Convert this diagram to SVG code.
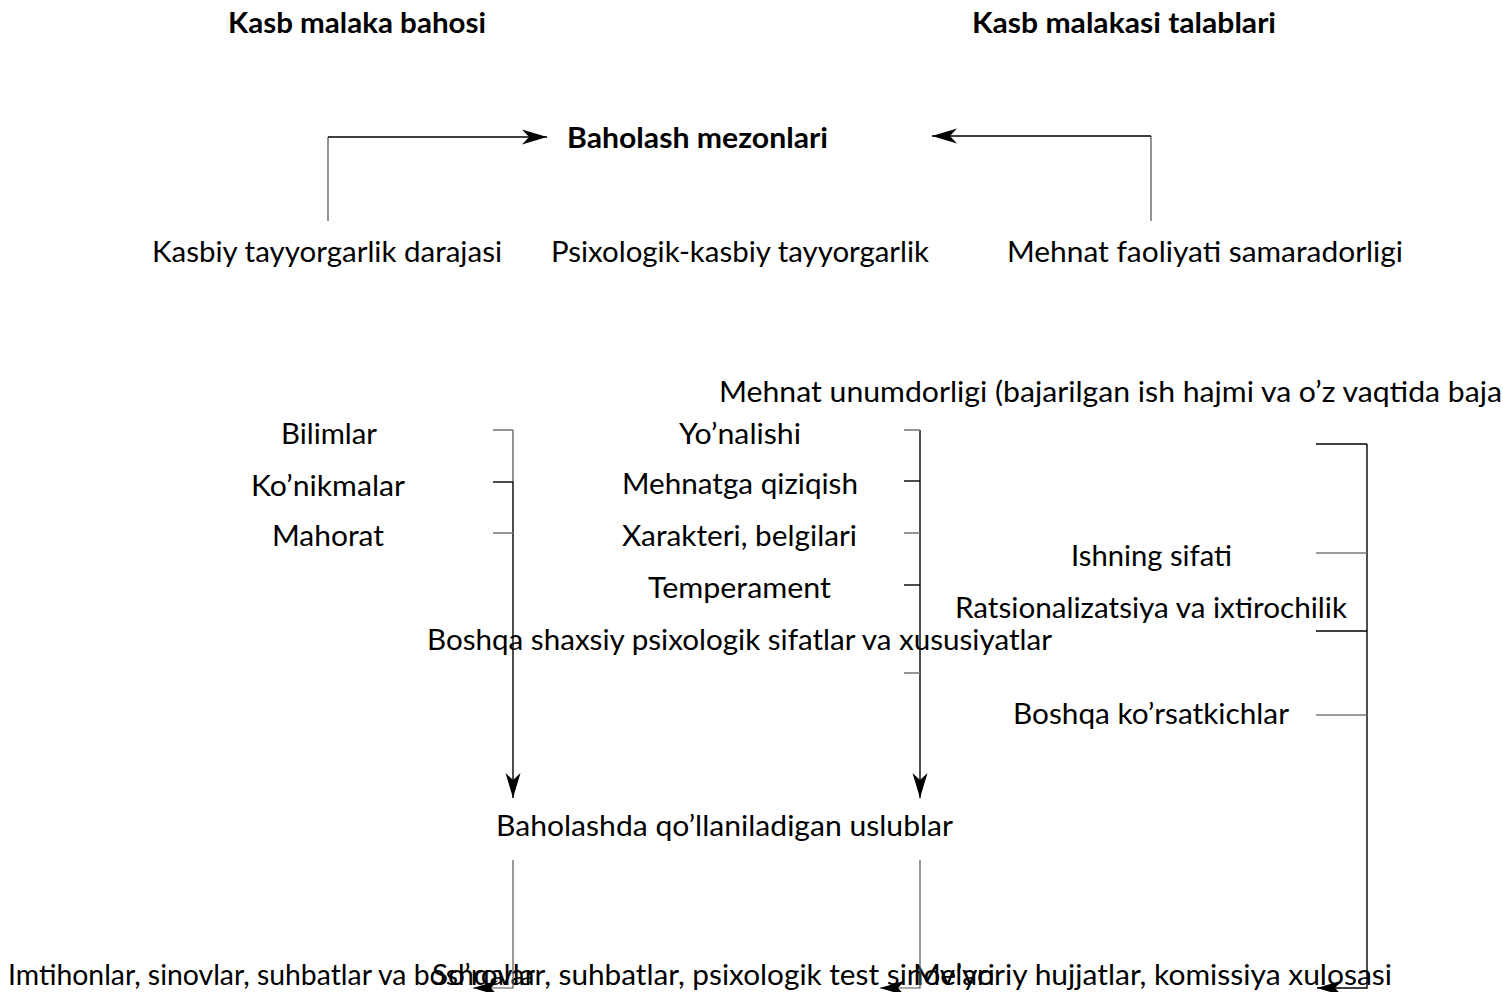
<svg xmlns="http://www.w3.org/2000/svg" width="1503" height="992" viewBox="0 0 1503 992">
  <style>
    text { font-family: Lato, "Liberation Sans", sans-serif; font-size: 28px; fill: #000; }
    .title { font-weight: bold; }
    .link { fill: none; stroke: #000; stroke-width: 1.4; }
    .stub { fill: none; stroke: #7a7a7a; stroke-width: 1.6; }
    .thin { fill: none; stroke: #555; stroke-width: 1.2; }
  </style>
  <defs>
    <marker id="arrow" markerUnits="userSpaceOnUse" markerWidth="26" markerHeight="16" refX="25" refY="8" orient="auto" viewBox="0 0 26 16">
      <path d="M0,0.5 L25,8 L0,15.5 L7,8 Z" fill="#000"/>
    </marker>
  </defs>
  <rect width="1503" height="992" fill="#fff"/>

  <!-- headings -->
  <g id="kasb-malaka-bahosi">
    <text class="title" x="228" y="33" textLength="258" lengthAdjust="spacingAndGlyphs">Kasb malaka bahosi</text>
  </g>
  <g id="kasb-malakasi-talablari">
    <text class="title" x="972" y="33" textLength="304" lengthAdjust="spacingAndGlyphs">Kasb malakasi talablari</text>
  </g>
  <g id="baholash-mezonlari">
    <text class="title" x="567" y="148" textLength="261" lengthAdjust="spacingAndGlyphs">Baholash mezonlari</text>
  </g>

  <!-- criteria -->
  <g id="kasbiy-tayyorgarlik">
    <text x="152" y="262" textLength="350" lengthAdjust="spacingAndGlyphs">Kasbiy tayyorgarlik darajasi</text>
  </g>
  <g id="psixologik-kasbiy">
    <text x="551" y="262" textLength="378" lengthAdjust="spacingAndGlyphs">Psixologik-kasbiy tayyorgarlik</text>
  </g>
  <g id="mehnat-faoliyati">
    <text x="1007" y="262" textLength="396" lengthAdjust="spacingAndGlyphs">Mehnat faoliyati samaradorligi</text>
  </g>

  <!-- professional readiness items -->
  <g id="bilimlar">
    <text x="281" y="444" textLength="96" lengthAdjust="spacingAndGlyphs">Bilimlar</text>
  </g>
  <g id="konikmalar">
    <text x="251" y="496" textLength="154" lengthAdjust="spacingAndGlyphs">Ko’nikmalar</text>
  </g>
  <g id="mahorat">
    <text x="272" y="546" textLength="112" lengthAdjust="spacingAndGlyphs">Mahorat</text>
  </g>

  <!-- psychological readiness items -->
  <g id="yonalishi">
    <text x="679" y="444" textLength="122" lengthAdjust="spacingAndGlyphs">Yo’nalishi</text>
  </g>
  <g id="mehnatga-qiziqish">
    <text x="622" y="494" textLength="236" lengthAdjust="spacingAndGlyphs">Mehnatga qiziqish</text>
  </g>
  <g id="xarakteri">
    <text x="622" y="546" textLength="235" lengthAdjust="spacingAndGlyphs">Xarakteri, belgilari</text>
  </g>
  <g id="temperament">
    <text x="648" y="598" textLength="183" lengthAdjust="spacingAndGlyphs">Temperament</text>
  </g>
  <g id="boshqa-sifatlar">
    <text x="427" y="650" textLength="625" lengthAdjust="spacingAndGlyphs">Boshqa shaxsiy psixologik sifatlar va xususiyatlar</text>
  </g>

  <!-- work efficiency items -->
  <g id="mehnat-unumdorligi">
    <text x="719" y="402" textLength="783" lengthAdjust="spacingAndGlyphs">Mehnat unumdorligi (bajarilgan ish hajmi va o’z vaqtida baja</text>
  </g>
  <g id="ishning-sifati">
    <text x="1071" y="566" textLength="161" lengthAdjust="spacingAndGlyphs">Ishning sifati</text>
  </g>
  <g id="ratsionalizatsiya">
    <text x="955" y="618" textLength="392" lengthAdjust="spacingAndGlyphs">Ratsionalizatsiya va ixtirochilik</text>
  </g>
  <g id="boshqa-korsatkichlar">
    <text x="1013" y="724" textLength="276" lengthAdjust="spacingAndGlyphs">Boshqa ko’rsatkichlar</text>
  </g>

  <!-- methods -->
  <g id="uslublar">
    <text x="496" y="836" textLength="457" lengthAdjust="spacingAndGlyphs">Baholashda qo’llaniladigan uslublar</text>
  </g>
  <g id="imtihonlar">
    <text x="8" y="985" textLength="527" lengthAdjust="spacingAndGlyphs">Imtihonlar, sinovlar, suhbatlar va boshqalar</text>
  </g>
  <g id="sorovlar">
    <text x="432" y="985" textLength="563" lengthAdjust="spacingAndGlyphs">So’rovlar, suhbatlar, psixologik test sinovlari</text>
  </g>
  <g id="meyoriy-hujjatlar">
    <text x="913" y="985" textLength="479" lengthAdjust="spacingAndGlyphs">Me’yoriy hujjatlar, komissiya xulosasi</text>
  </g>

  <!-- connectors -->
  <g id="connectors">
    <!-- into "Baholash mezonlari" -->
    <line class="stub" x1="328" y1="221" x2="328" y2="137"/>
    <line class="link" x1="328" y1="137" x2="547" y2="137" marker-end="url(#arrow)"/>
    <line class="stub" x1="1151" y1="221" x2="1151" y2="136"/>
    <line class="link" x1="1151" y1="136" x2="932" y2="136" marker-end="url(#arrow)"/>

    <!-- left bracket -->
    <line class="stub" x1="513" y1="430" x2="513" y2="482"/>
    <line class="link" x1="513" y1="482" x2="513" y2="798" marker-end="url(#arrow)"/>
    <line class="stub" x1="493" y1="430" x2="513" y2="430"/>
    <line class="link" x1="493" y1="482" x2="513" y2="482"/>
    <line class="stub" x1="493" y1="533" x2="513" y2="533"/>

    <!-- middle bracket -->
    <line class="link" x1="920" y1="430" x2="920" y2="798" marker-end="url(#arrow)"/>
    <line class="stub" x1="904" y1="430" x2="920" y2="430"/>
    <line class="link" x1="904" y1="481" x2="920" y2="481"/>
    <line class="stub" x1="904" y1="533" x2="920" y2="533"/>
    <line class="link" x1="904" y1="585" x2="920" y2="585"/>
    <line class="stub" x1="904" y1="673" x2="920" y2="673"/>

    <!-- right bracket -->
    <path class="link" d="M1367,444 V988 H1317" marker-end="url(#arrow)"/>
    <line class="link" x1="1316" y1="444" x2="1367" y2="444"/>
    <line class="stub" x1="1316" y1="553" x2="1367" y2="553"/>
    <line class="link" x1="1316" y1="631" x2="1367" y2="631"/>
    <line class="stub" x1="1316" y1="715" x2="1367" y2="715"/>

    <!-- from methods down -->
    <path class="thin" d="M513,860 V988 H473" marker-end="url(#arrow)"/>
    <path class="thin" d="M920,860 V988 H880" marker-end="url(#arrow)"/>
  </g>
</svg>
